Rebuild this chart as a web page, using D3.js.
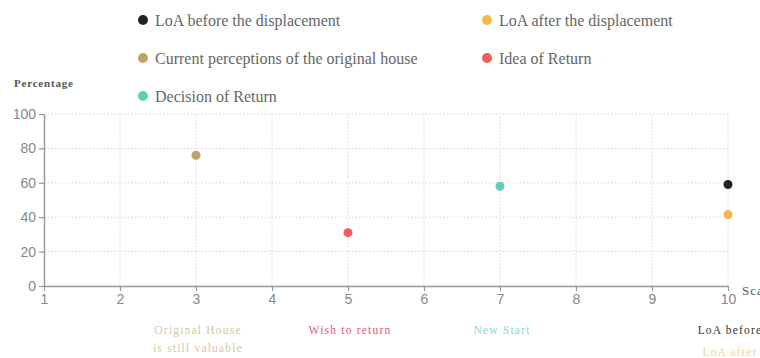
<!DOCTYPE html>
<html><head><meta charset="utf-8">
<script src="https://cdn.jsdelivr.net/npm/d3@7"></script>
<style>html,body{margin:0;padding:0;background:#fff;}svg{display:block;}</style>
</head><body>
<svg id="c" width="760" height="358"></svg>
<script>
const seriesNames = ["LoA before the displacement","LoA after the displacement","Current perceptions of the original house","Idea of Return","Decision of Return"];
const seriesColors = ["#222222","#f4b846","#bfa366","#f05b5e","#5ccfbf"];
const seriesX = [10,10,3,5,7];
const seriesY = [59,41.5,76,31,58];
const xTicks = [1,2,3,4,5,6,7,8,9,10];
const yTicks = [0,20,40,60,80,100];
const annotLines = [["Original House","is still valuable"],["Wish to return"],["New Start"],["LoA before"],["LoA after"]];
const annotX = [3,5,7,10,10];
const annotColors = ["#d8c79f","#e35a72","#8ed8cb","#333333","#f5d393"];
const annotRowOffset = [0,0,0,0,1];
const legendCols = [0,1,0,1,0];
const legendRows = [0,0,1,1,2];

const svg = d3.select("#c");
const x = d3.scaleLinear().domain([1,10]).range([44,728]);
const y = d3.scaleLinear().domain([0,100]).range([286,114]);

// grid
svg.append("g").selectAll("line.h").data(yTicks.filter(d=>d>0)).join("line")
  .attr("x1",x(1)).attr("x2",x(10)).attr("y1",d=>y(d)).attr("y2",d=>y(d))
  .attr("stroke","#d4d4d4").attr("stroke-dasharray","1.5,2");
svg.append("g").selectAll("line.v").data(xTicks.filter(d=>d>1)).join("line")
  .attr("x1",d=>x(d)).attr("x2",d=>x(d)).attr("y1",y(0)).attr("y2",y(100))
  .attr("stroke","#d4d4d4").attr("stroke-dasharray","1.5,2");

// axes
const xa = svg.append("g").attr("transform",`translate(0,${y(0)})`)
  .call(d3.axisBottom(x).tickValues(xTicks).tickFormat(d3.format("d")).tickSize(5).tickSizeOuter(0));
const ya = svg.append("g").attr("transform",`translate(${x(1)},0)`)
  .call(d3.axisLeft(y).tickValues(yTicks).tickSize(5).tickSizeOuter(0));
[xa,ya].forEach(a=>{
  a.select(".domain").attr("stroke","#999").attr("stroke-width",1.5);
  a.selectAll(".tick line").attr("stroke","#999").attr("stroke-width",1.2);
  a.selectAll("text").attr("fill","#888").style("font-family","Liberation Sans, Arial, sans-serif").style("font-size","14px");
});
xa.selectAll("text").attr("dy","0.95em").attr("y",5);
ya.selectAll("text").attr("x",-8);

// axis names
svg.append("text").attr("x",14).attr("y",87).text("Percentage")
  .attr("fill","#555").style("font-family","Liberation Serif, serif").style("font-size","11px")
  .style("font-weight","bold").style("letter-spacing","0.8px");
svg.append("text").attr("x",742).attr("y",295).text("Scale")
  .attr("fill","#555").style("font-family","Liberation Serif, serif").style("font-size","13px")
  .style("letter-spacing","1px");

// points
svg.append("g").selectAll("circle").data(seriesNames).join("circle")
  .attr("cx",(d,i)=>x(seriesX[i])).attr("cy",(d,i)=>y(seriesY[i])).attr("r",4.5)
  .attr("fill",(d,i)=>seriesColors[i]);

// legend
const lg = svg.append("g").selectAll("g").data(seriesNames).join("g")
  .attr("transform",(d,i)=>`translate(${143+legendCols[i]*344},${20+legendRows[i]*38})`);
lg.append("circle").attr("r",5).attr("fill",(d,i)=>seriesColors[i]);
lg.append("text").attr("x",12).attr("y",5.5).text(d=>d).attr("fill","#666")
  .style("font-family","Liberation Serif, serif").style("font-size","16px");

// annotations
const an = svg.append("g").selectAll("text").data(annotLines).join("text")
  .attr("text-anchor","middle").attr("fill",(d,i)=>annotColors[i])
  .style("font-family","Liberation Serif, serif").style("font-size","11.5px").style("letter-spacing","1.2px");
an.each(function(lines,i){
  const t = d3.select(this);
  lines.forEach((l,j)=>{
    t.append("tspan").attr("x",x(annotX[i])+2).attr("y",334+(annotRowOffset[i]+j)*18 + (annotRowOffset[i]?4:0)).text(l);
  });
});
</script>
</body></html>
